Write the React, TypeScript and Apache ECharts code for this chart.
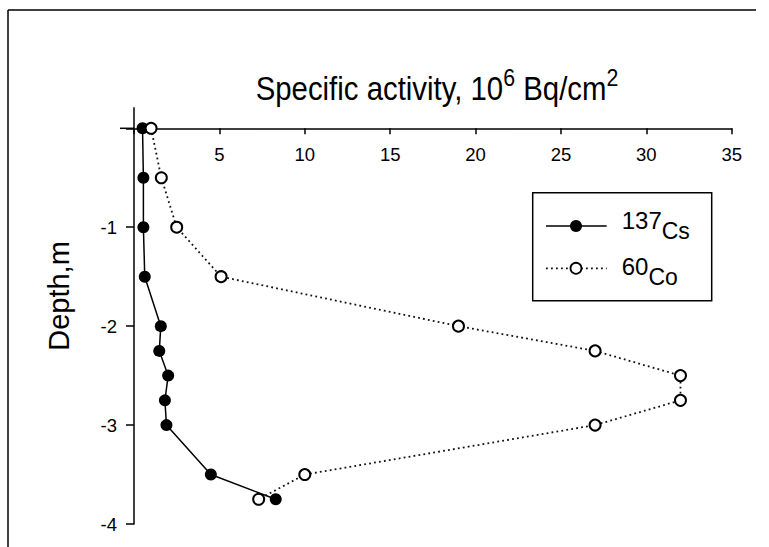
import React, { useEffect, useRef } from "react";
import * as echarts from "echarts";

// Depth (m) of each sample
const depths = [0, -0.5, -1, -1.5, -2, -2.25, -2.5, -2.75, -3, -3.5, -3.75];
// Specific activity, 10^6 Bq/cm^2
const cs137 = [0.5, 0.55, 0.55, 0.63, 1.57, 1.48, 2.0, 1.81, 1.9, 4.5, 8.3];
const co60 = [1.0, 1.6, 2.5, 5.1, 19.0, 27.0, 32.0, 32.0, 27.0, 10.0, 7.3];

const xMin = 0;
const xMax = 35;
const xStep = 5;
const yMin = -4;
const yMax = 0;
const yStep = 1;

const FONT = "'Liberation Sans', Arial, sans-serif";

export default function App() {
  const ref = useRef<HTMLDivElement>(null);

  useEffect(() => {
    if (!ref.current) return;
    const chart = echarts.init(ref.current, undefined, { renderer: "svg" });

    const csData = depths.map((d, i) => [cs137[i], d]);
    const coData = depths.map((d, i) => [co60[i], d]);

    chart.setOption({
      animation: false,
      backgroundColor: "#fff",
      grid: { left: 134, top: 128.3, right: 37.3, bottom: 23, containLabel: false },
      xAxis: {
        type: "value",
        position: "top",
        min: xMin,
        max: xMax,
        interval: xStep,
        axisLine: { show: true, onZero: false, lineStyle: { color: "#000", width: 1.5 } },
        axisTick: { show: true, inside: true, length: 6, lineStyle: { color: "#000", width: 1.5 } },
        axisLabel: {
          inside: true,
          margin: 17,
          color: "#000",
          fontSize: 18.5,
          fontFamily: FONT,
          formatter: (v: number) => (v === 0 ? "" : String(v)),
        },
        splitLine: { show: false },
      },
      yAxis: {
        type: "value",
        min: yMin,
        max: yMax,
        interval: yStep,
        axisLine: { show: true, onZero: false, lineStyle: { color: "#000", width: 1.5 } },
        axisTick: { show: true, inside: false, length: 8, lineStyle: { color: "#000", width: 1.5 } },
        axisLabel: {
          margin: 17,
          color: "#000",
          fontSize: 18.5,
          fontFamily: FONT,
          formatter: (v: number) => (v === 0 ? "" : String(v)),
        },
        splitLine: { show: false },
      },
      series: [
        {
          name: "137Cs",
          type: "line",
          data: csData,
          symbol: "circle",
          symbolSize: 12,
          lineStyle: { color: "#000", width: 1.5 },
          itemStyle: { color: "#000" },
          z: 2,
        },
        {
          name: "60Co",
          type: "line",
          data: coData,
          symbol: "emptyCircle",
          symbolSize: 11,
          lineStyle: { color: "#111", width: 1.8, type: [1.8, 3.2] },
          itemStyle: { color: "#000", borderColor: "#000", borderWidth: 1.8 },
          z: 3,
        },
      ],
    });

    const origin = chart.convertToPixel({ gridIndex: 0 }, [0, 0]) as number[];
    const ox = origin[0];
    const oy = origin[1];

    chart.setOption({
      graphic: [
        // outer frame (top and left edges)
        { type: "line", shape: { x1: 8, y1: 10, x2: 756, y2: 10 }, style: { stroke: "#000", lineWidth: 1.5 }, silent: true },
        { type: "line", shape: { x1: 8, y1: 10, x2: 8, y2: 547 }, style: { stroke: "#000", lineWidth: 1.5 }, silent: true },
        // axis extensions through the origin
        { type: "line", shape: { x1: ox - 14, y1: oy, x2: ox, y2: oy }, style: { stroke: "#000", lineWidth: 1.5 }, silent: true },
        { type: "line", shape: { x1: ox, y1: oy - 21, x2: ox, y2: oy }, style: { stroke: "#000", lineWidth: 1.5 }, silent: true },
        // title
        {
          type: "text",
          x: 255.7,
          y: 66,
          scaleX: 0.89,
          style: {
            text: "{m|Specific activity, 10}{p|6}{m| Bq/cm}{p|2}",
            align: "left",
            verticalAlign: "top",
            fill: "#000",
            fontFamily: FONT,
            rich: {
              m: { fontSize: 33, lineHeight: 33, padding: [6, 0, 0, 0], verticalAlign: "top", fontFamily: FONT, fill: "#000" },
              p: { fontSize: 24, lineHeight: 24, verticalAlign: "top", fontFamily: FONT, fill: "#000" },
            },
          },
        },
        // y axis name
        {
          type: "text",
          x: 58.5,
          y: 296,
          rotation: Math.PI / 2,
          style: {
            text: "Depth,m",
            align: "center",
            verticalAlign: "middle",
            fontSize: 29,
            fontFamily: FONT,
            fill: "#000",
          },
        },
        // legend
        {
          type: "rect",
          shape: { x: 532.7, y: 192.7, width: 179, height: 108 },
          style: { fill: "#fff", stroke: "#000", lineWidth: 1.5 },
          z: 10,
        },
        { type: "line", shape: { x1: 546, y1: 226, x2: 606.7, y2: 226 }, style: { stroke: "#000", lineWidth: 1.5 }, z: 11 },
        { type: "circle", shape: { cx: 576, cy: 226, r: 6 }, style: { fill: "#000" }, z: 12 },
        { type: "line", shape: { x1: 546, y1: 268.3, x2: 606.7, y2: 268.3 }, style: { stroke: "#111", lineWidth: 1.8, lineDash: [1.8, 3.2] }, z: 11 },
        { type: "circle", shape: { cx: 576, cy: 268.3, r: 5.5 }, style: { fill: "#fff", stroke: "#000", lineWidth: 1.8 }, z: 12 },
        {
          type: "text",
          x: 621.7,
          y: 208.5,
          z: 12,
          style: {
            text: "{n|137}{s|Cs}",
            align: "left",
            verticalAlign: "top",
            fontFamily: FONT,
            fill: "#000",
            rich: {
              n: { fontSize: 24, lineHeight: 24, verticalAlign: "top", fontFamily: FONT, fill: "#000" },
              s: { fontSize: 23, lineHeight: 23, padding: [11, 0, 0, 0], verticalAlign: "top", fontFamily: FONT, fill: "#000" },
            },
          },
        },
        {
          type: "text",
          x: 621.7,
          y: 254.1,
          z: 12,
          style: {
            text: "{n|60}{s|Co}",
            align: "left",
            verticalAlign: "top",
            fontFamily: FONT,
            fill: "#000",
            rich: {
              n: { fontSize: 24, lineHeight: 24, verticalAlign: "top", fontFamily: FONT, fill: "#000" },
              s: { fontSize: 23, lineHeight: 23, padding: [11, 0, 0, 0], verticalAlign: "top", fontFamily: FONT, fill: "#000" },
            },
          },
        },
      ],
    });

    return () => chart.dispose();
  }, []);

  return (
    <div
      ref={ref}
      style={{ position: "absolute", left: 0, top: 0, width: 769, height: 547 }}
    />
  );
}
